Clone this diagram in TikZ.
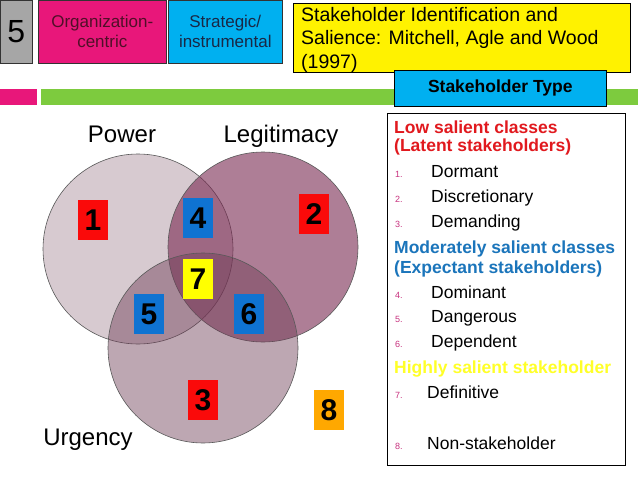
\documentclass[tikz,border=0pt]{standalone}
\usepackage{fontspec}
\setmainfont{Liberation Sans}
\begin{document}
\begin{tikzpicture}[x=1pt,y=-1pt]
\definecolor{pinkc}{RGB}{232,23,122}
\definecolor{bluec}{RGB}{0,176,240}
\definecolor{greenc}{RGB}{125,203,62}
\definecolor{grayc}{RGB}{166,166,166}
\definecolor{vennp}{RGB}{125,80,100}
\definecolor{vennl}{RGB}{120,40,80}
\definecolor{vennu}{RGB}{110,60,85}
\definecolor{sqred}{RGB}{250,10,10}
\definecolor{sqblue}{RGB}{15,115,210}
\definecolor{sqyellow}{RGB}{255,255,0}
\definecolor{sqorange}{RGB}{255,168,0}
\definecolor{headred}{RGB}{225,25,30}
\definecolor{headblue}{RGB}{27,117,187}
\definecolor{headyellow}{RGB}{255,255,40}
\definecolor{markc}{RGB}{200,50,127}
\definecolor{maroontext}{RGB}{80,15,40}
\definecolor{navytext}{RGB}{25,40,70}
\tikzset{
  topbox/.style={draw=black!80, line width=0.6pt, anchor=north west, inner sep=0pt, align=center, font=\fontsize{17}{20}\selectfont},
  venn/.style={circle, draw=black!65, line width=0.6pt, minimum size=190pt, inner sep=0pt},
  sq/.style={minimum width=30pt, minimum height=40pt, inner sep=0pt, font=\fontsize{30}{30}\selectfont\bfseries},
  vlabel/.style={anchor=base, inner sep=0pt, font=\fontsize{24}{24}\selectfont},
  head/.style={anchor=base west, inner sep=0pt, font=\fontsize{17.5}{20}\selectfont\bfseries},
  item/.style={anchor=base west, inner sep=0pt, font=\fontsize{17.5}{20}\selectfont},
  numlbl/.style={anchor=base west, inner sep=0pt, text=markc, font=\fontsize{9}{10}\selectfont},
  ttl/.style={anchor=base west, inner sep=0pt, font=\fontsize{19.5}{24}\selectfont}
}
\useasboundingbox (0,0) rectangle (638,479);
\fill[white] (0,0) rectangle (638,479);
% top boxes
\node[topbox, fill=grayc, minimum width=32pt, minimum height=63pt, font=\fontsize{32}{32}\selectfont] (five) at (0,0) {5};
\node[topbox, fill=pinkc, minimum width=128pt, minimum height=63pt, text=maroontext] (org) at (38,0) {Organization-\\centric};
\node[topbox, fill=bluec, minimum width=114pt, minimum height=63pt, text=navytext] (strat) at (168,0) {Strategic/\\instrumental};
% bars
\fill[pinkc] (0,89) rectangle (37,105);
\fill[greenc] (41,89) rectangle (638,105);
% title
\node[draw=black, line width=0.6pt, fill=yellow, anchor=north west, minimum width=337pt, minimum height=69pt, inner sep=0pt] (title) at (293,3) {};
\node[ttl] (t1) at (301,21) {Stakeholder Identification and};
\node[ttl] (t2) at (301,45) {Salience: Mitchell, Agle and Wood};
\node[ttl] (t3) at (301,68) {(1997)};
% stakeholder type
\node[draw=black, line width=0.6pt, fill=bluec, anchor=north west, minimum width=212pt, minimum height=36pt, inner sep=0pt, font=\fontsize{17.5}{20}\selectfont\bfseries] (stype) at (394,70) {Stakeholder Type};
% list box
\node[draw=black, line width=0.8pt, fill=white, anchor=north west, minimum width=238pt, minimum height=352pt, inner sep=0pt] (list) at (387,113) {};
\node[head, text=headred] (h1) at (394,133) {Low salient classes};
\node[head, text=headred] (h1b) at (394,151) {(Latent stakeholders)};
\node[numlbl] (m1) at (395,177) {1.};
\node[item] (i1) at (431,177) {Dormant};
\node[numlbl] (m2) at (395,202) {2.};
\node[item] (i2) at (431,202) {Discretionary};
\node[numlbl] (m3) at (395,227) {3.};
\node[item] (i3) at (431,227) {Demanding};
\node[head, text=headblue] (h2) at (394,253) {Moderately salient classes};
\node[head, text=headblue] (h2b) at (394,273) {(Expectant stakeholders)};
\node[numlbl] (m4) at (395,298) {4.};
\node[item] (i4) at (431,298) {Dominant};
\node[numlbl] (m5) at (395,322) {5.};
\node[item] (i5) at (431,322) {Dangerous};
\node[numlbl] (m6) at (395,347) {6.};
\node[item] (i6) at (431,347) {Dependent};
\node[head, text=headyellow] (h3) at (394,373) {Highly salient stakeholder};
\node[numlbl] (m7) at (395,398) {7.};
\node[item] (i7) at (427,398) {Definitive};
\node[numlbl] (m8) at (395,449) {8.};
\node[item] (i8) at (427,449) {Non-stakeholder};
% venn
\node[venn, fill=vennp, fill opacity=0.3] (power) at (138,249) {};
\node[venn, fill=vennl, fill opacity=0.6] (legit) at (263,247) {};
\node[venn, fill=vennu, fill opacity=0.45] (urg) at (203,348) {};
\node[vlabel] (lp) at (122,142) {Power};
\node[vlabel] (ll) at (281,142) {Legitimacy};
\node[vlabel] (lu) at (88,445) {Urgency};
\node[sq, fill=sqred] (s1) at (93,220) {1};
\node[sq, fill=sqred] (s2) at (314,214) {2};
\node[sq, fill=sqred] (s3) at (203,400) {3};
\node[sq, fill=sqblue] (s4) at (198,218) {4};
\node[sq, fill=sqblue] (s5) at (149,314) {5};
\node[sq, fill=sqblue] (s6) at (249,314) {6};
\node[sq, fill=sqyellow] (s7) at (198,279) {7};
\node[sq, fill=sqorange] (s8) at (329,410) {8};
\end{tikzpicture}
\end{document}
